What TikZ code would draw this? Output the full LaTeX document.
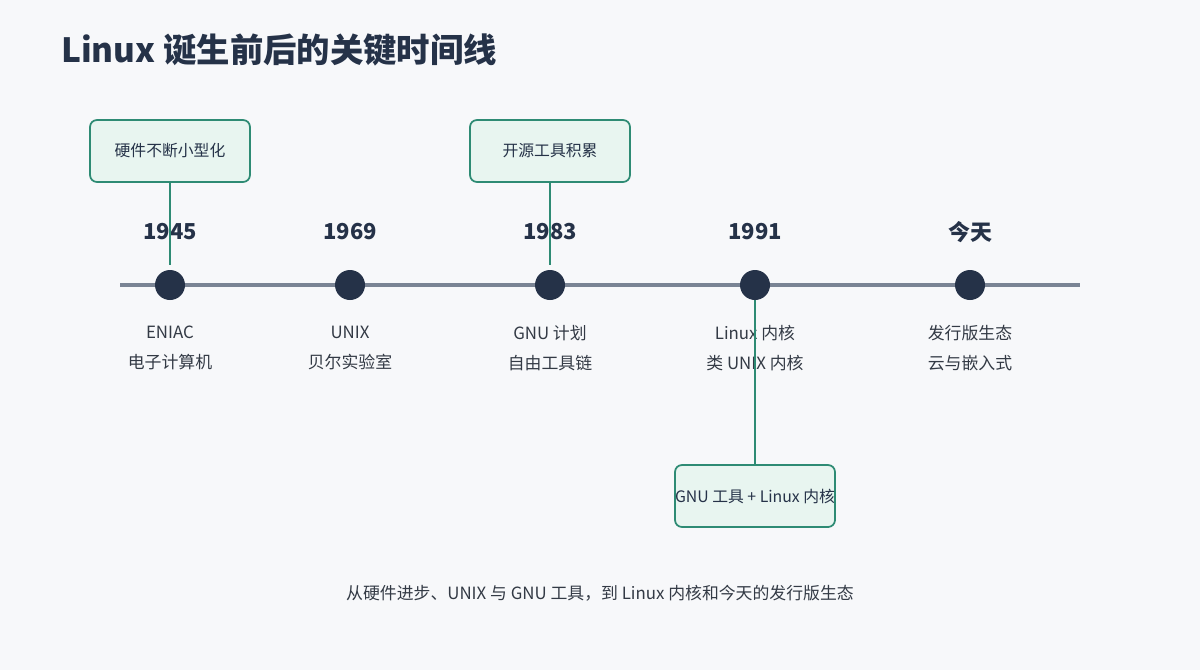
\documentclass[tikz,border=0pt]{standalone}
\usepackage{fontspec}
\setmainfont{Noto Sans CJK SC}
\usetikzlibrary{positioning}
\definecolor{bgc}{HTML}{F7F8FA}
\definecolor{axisc}{HTML}{7A8494}
\definecolor{dotc}{HTML}{253248}
\definecolor{boxf}{HTML}{E8F5F0}
\definecolor{boxd}{HTML}{2E8B74}
\definecolor{txtc}{HTML}{333A45}
\tikzset{
  dot/.style={circle, fill=dotc, minimum size=30*0.02cm, inner sep=0pt},
  year/.style={font=\fontsize{12.5}{14}\selectfont\bfseries, text=dotc},
  lbl/.style={font=\fontsize{9.6}{17}\selectfont, text=txtc, align=center},
  box/.style={draw=boxd, fill=boxf, line width=1pt, rounded corners=4pt, minimum width=160*0.02cm, minimum height=62*0.02cm},
  boxtxt/.style={font=\fontsize{9}{11}\selectfont, text=dotc},
  link/.style={draw=boxd, line width=1.6pt}
}
\begin{document}
\begin{tikzpicture}[x=0.02cm, y=-0.02cm]
\fill[bgc] (0,0) rectangle (1200,670);
\useasboundingbox (0,0) rectangle (1200,670);

%title
\node[anchor=west, font=\fontsize{19}{22}\selectfont\bfseries, text=dotc] (title) at (55,50) {Linux 诞生前后的关键时间线};

%axis
\coordinate (axl) at (120,285);
\coordinate (axr) at (1080,285);
\draw[axisc, line width=2.4pt] (axl) -- (axr);

%boxes
\node[box] (hw) at (170,151) {};
\node[boxtxt] at (hw) {硬件不断小型化};
\node[box] (oss) at (550,151) {};
\node[boxtxt] at (oss) {开源工具积累};
\node[box] (gl) at (755,496) {};
\node[boxtxt] at (gl) {GNU 工具 + Linux 内核};

%years and dots
\foreach \n/\x/\y/\a/\b in {d1/170/1945/ENIAC/电子计算机, d2/350/1969/UNIX/贝尔实验室, d3/550/1983/GNU 计划/自由工具链, d4/755/1991/Linux 内核/类 UNIX 内核, d5/970/今天/发行版生态/云与嵌入式}{
  \node[dot] (\n) at (\x,285) {};
  \node[year] (y\n) at (\x,232) {\y};
  \node[lbl] (l\n) at (\x,348) {\a\\\b};
}

%links
\coordinate (t1) at (170,265);
\coordinate (t3) at (550,265);
\coordinate (t4) at (755,300);
\draw[link] (hw) -- (t1);
\draw[link] (oss) -- (t3);
\draw[link] (t4) -- (gl);

%caption
\node[lbl] (cap) at (600,593) {从硬件进步、UNIX 与 GNU 工具，到 Linux 内核和今天的发行版生态};
\end{tikzpicture}
\end{document}
